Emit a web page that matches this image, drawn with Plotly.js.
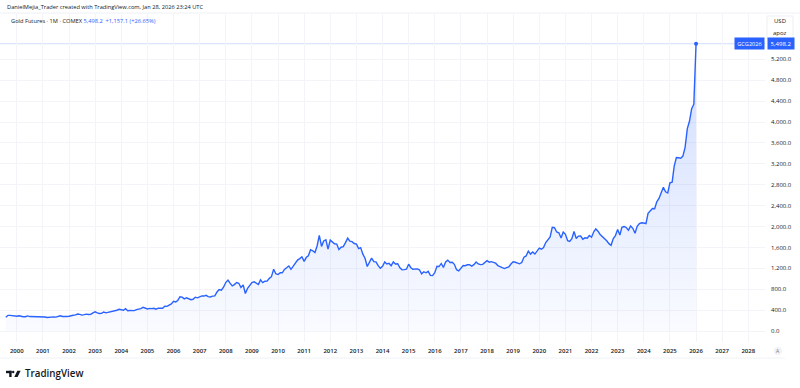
<!DOCTYPE html>
<html><head><meta charset="utf-8">
<script src="https://cdn.plot.ly/plotly-3.0.1.min.js"></script>
<style>html,body{margin:0;padding:0;background:#fff}#chart{width:800px;height:388px}</style>
</head><body><div id="chart"></div>
<script>
// Monthly closes, Gold Futures (COMEX), starting Aug 1999
const startYear = 1999, startMonth = 8;
const closes = [
  262, 300, 300, 292, 289,                                            // 1999 Aug-Dec
  283, 293, 277, 274, 273, 289, 277, 277, 274, 264, 269, 273,        // 2000
  265, 267, 258, 264, 266, 271, 266, 273, 293, 279, 275, 279,        // 2001
  282, 297, 302, 309, 326, 318, 304, 313, 324, 317, 318, 348,        // 2002
  368, 348, 335, 337, 364, 347, 355, 375, 385, 384, 398, 417,        // 2003
  400, 397, 427, 389, 394, 395, 391, 410, 418, 429, 453, 438,        // 2004
  423, 434, 428, 436, 418, 437, 429, 435, 473, 471, 496, 518,        // 2005
  570, 557, 585, 656, 648, 616, 637, 626, 600, 607, 648, 635,        // 2006
  652, 673, 669, 684, 659, 651, 668, 673, 748, 795, 783, 838,        // 2007
  928, 975, 917, 863, 888, 928, 914, 833, 884, 718, 816, 884,        // 2008
  928, 942, 924, 891, 979, 927, 954, 955, 1008, 1040, 1182, 1096,    // 2009
  1081, 1118, 1115, 1180, 1212, 1245, 1181, 1247, 1308, 1357, 1386, 1421, // 2010
  1333, 1411, 1439, 1556, 1536, 1502, 1628, 1829, 1620, 1725, 1746, 1566, // 2011
  1740, 1711, 1669, 1664, 1561, 1604, 1614, 1691, 1776, 1719, 1711, 1675, // 2012
  1663, 1578, 1596, 1472, 1393, 1234, 1313, 1396, 1327, 1323, 1250, 1202, // 2013
  1240, 1322, 1284, 1296, 1250, 1322, 1282, 1287, 1210, 1171, 1175, 1184, // 2014
  1279, 1212, 1183, 1182, 1190, 1172, 1095, 1135, 1115, 1142, 1065, 1061, // 2015
  1118, 1238, 1234, 1293, 1216, 1322, 1357, 1312, 1316, 1277, 1173, 1152, // 2016
  1211, 1253, 1249, 1268, 1269, 1242, 1270, 1322, 1284, 1271, 1275, 1309, // 2017
  1345, 1318, 1327, 1315, 1298, 1253, 1233, 1206, 1196, 1215, 1226, 1283, // 2018
  1325, 1316, 1298, 1286, 1311, 1413, 1437, 1529, 1472, 1514, 1473, 1520, // 2019
  1588, 1566, 1597, 1694, 1751, 1800, 1986, 1978, 1895, 1879, 1781, 1895, // 2020
  1850, 1728, 1716, 1769, 1905, 1771, 1817, 1818, 1757, 1784, 1776, 1829, // 2021
  1796, 1900, 1954, 1911, 1848, 1807, 1781, 1726, 1672, 1640, 1768, 1826, // 2022
  1945, 1836, 1986, 1999, 1982, 1929, 2009, 1966, 1870, 2004, 2057, 2072, // 2023
  2067, 2054, 2254, 2303, 2346, 2339, 2474, 2537, 2660, 2750, 2665, 2641, // 2024
  2835, 2848, 3150, 3319, 3315, 3308, 3348, 3516, 3873, 4014, 4254, 4341.1, // 2025
  5498.2                                                              // 2026 Jan
];
const yearLabels = ['2000','2001','2002','2003','2004','2005','2006','2007','2008','2009','2010','2011','2012','2013','2014','2015','2016','2017','2018','2019','2020','2021','2022','2023','2024','2025','2026','2027','2028'];
const yTicks = [0,400,800,1200,1600,2000,2400,2800,3200,3600,4000,4400,4800,5200];
const symbol = 'GCG2026';
const titleText = 'Gold Futures · 1M · COMEX';
const creditText = 'DanielMejia_Trader created with TradingView.com, Jan 28, 2026 23:24 UTC';

const months = closes.map((_, i) => {
  const m = startMonth - 1 + i;
  const y = startYear + Math.floor(m / 12);
  return y + '-' + String((m % 12) + 1).padStart(2, '0') + '-01';
});
const fmt = v => v.toLocaleString('en-US', {minimumFractionDigits: 1, maximumFractionDigits: 1});
const n = closes.length;
const last = closes[n - 1], prev = closes[n - 2];
const chg = last - prev, pct = chg / prev * 100;

const BLUE = '#2962FF', TXT = '#131722', GRID = '#f3f4f8';
const FONT = '"Open Sans", Roboto, sans-serif';
// pixel -> paper helpers (plot area: x 0..765, y 14..342)
const PX = x => x / 765;
const PY = y => (342 - y) / 328;

const traces = [
  {
    x: months, y: closes, type: 'scatter', mode: 'lines',
    line: {color: BLUE, width: 1.4},
    fill: 'tozeroy',
    fillgradient: {type: 'vertical', start: 0, stop: 5500,
      colorscale: [[0, 'rgba(41,98,255,0.025)'], [1, 'rgba(41,98,255,0.22)']]},
    hoverinfo: 'skip'
  },
  {
    x: [months[n - 1]], y: [last], type: 'scatter', mode: 'markers',
    marker: {color: BLUE, size: 4}, hoverinfo: 'skip'
  }
];

const tickDates = yearLabels.map(y => y + '-01-01');

const layout = {
  width: 800, height: 388,
  margin: {l: 0, r: 35, t: 14, b: 46},
  paper_bgcolor: '#ffffff', plot_bgcolor: '#ffffff',
  showlegend: false,
  font: {family: FONT, color: TXT, size: 6},
  xaxis: {
    type: 'date', range: ['1999-05-12', '2028-08-22'],
    tickvals: tickDates, ticktext: yearLabels,
    showgrid: true, gridcolor: GRID, gridwidth: 1,
    zeroline: false, showline: false, ticks: '',
    tickfont: {size: 6, color: TXT, family: FONT, weight: 600},
    ticklabelstandoff: 4, fixedrange: true
  },
  yaxis: {
    side: 'right', range: [-210, 6067],
    tickvals: yTicks, ticktext: yTicks.map(fmt),
    showgrid: true, gridcolor: GRID, gridwidth: 1,
    zeroline: false, showline: false, ticks: '',
    tickfont: {size: 6, color: TXT, family: FONT},
    ticklabelstandoff: 5, fixedrange: true
  },
  shapes: [
    {type: 'line', xref: 'paper', yref: 'y', x0: 0, x1: 1, y0: last, y1: last,
     line: {color: 'rgba(41,98,255,0.22)', width: 1}, layer: 'below'},
    {type: 'line', xref: 'paper', yref: 'paper', x0: 0, x1: PX(800), y0: PY(13), y1: PY(13),
     line: {color: '#eef0f5', width: 1}},
    {type: 'line', xref: 'paper', yref: 'paper', x0: 0, x1: PX(785), y0: PY(358), y1: PY(358),
     line: {color: '#f0f2f6', width: 1}},
    {type: 'rect', xref: 'paper', yref: 'paper', x0: PX(767), x1: PX(793), y0: PY(39), y1: PY(16),
     line: {color: '#e6e8ee', width: 0.7}, fillcolor: '#ffffff'},
    {type: 'circle', xref: 'paper', yref: 'paper', x0: PX(774), x1: PX(782), y0: PY(355), y1: PY(347),
     line: {width: 0}, fillcolor: '#f0f2f6'},
    // TradingView logo
    {type: 'rect', xref: 'paper', yref: 'paper', x0: PX(6), x1: PX(11.6), y0: PY(373.2), y1: PY(370.8),
     line: {width: 0}, fillcolor: TXT},
    {type: 'rect', xref: 'paper', yref: 'paper', x0: PX(9.2), x1: PX(11.6), y0: PY(377), y1: PY(370.8),
     line: {width: 0}, fillcolor: TXT},
    {type: 'circle', xref: 'paper', yref: 'paper', x0: PX(12), x1: PX(14.4), y0: PY(373.2), y1: PY(370.8),
     line: {width: 0}, fillcolor: TXT},
    {type: 'path', xref: 'paper', yref: 'paper',
     path: `M ${PX(17.3)} ${PY(370.8)} L ${PX(20.6)} ${PY(370.8)} L ${PX(17.6)} ${PY(377)} L ${PX(14.3)} ${PY(377)} Z`,
     line: {width: 0}, fillcolor: TXT}
  ],
  annotations: [
    {xref: 'paper', yref: 'paper', x: PX(5), y: PY(7), xanchor: 'left', yanchor: 'middle',
     text: creditText, showarrow: false, font: {size: 5.7, color: TXT, family: FONT}},
    {xref: 'paper', yref: 'paper', x: PX(9), y: PY(21), xanchor: 'left', yanchor: 'middle',
     text: titleText + ' <span style="color:' + BLUE + '">' + fmt(last) + '  ' +
       (chg >= 0 ? '+' : '') + fmt(chg) + ' (' + (chg >= 0 ? '+' : '') + pct.toFixed(2) + '%)</span>',
     showarrow: false, font: {size: 5.7, color: TXT, family: FONT}},
    {xref: 'paper', yref: 'paper', x: PX(780), y: PY(21), xanchor: 'center', yanchor: 'middle',
     text: 'USD', showarrow: false, font: {size: 6, color: TXT, family: FONT}},
    {xref: 'paper', yref: 'paper', x: PX(780), y: PY(33), xanchor: 'center', yanchor: 'middle',
     text: 'apoz', showarrow: false, font: {size: 6, color: TXT, family: FONT}},
    {xref: 'paper', yref: 'y', x: 1, y: last, xanchor: 'left', yanchor: 'middle', xshift: 2,
     text: fmt(last), showarrow: false, bgcolor: BLUE, borderpad: 1.5, width: 23,
     font: {size: 6, color: '#ffffff', family: FONT}},
    {xref: 'paper', yref: 'y', x: 1, y: last, xanchor: 'right', yanchor: 'middle', xshift: 0,
     text: symbol, showarrow: false, bgcolor: BLUE, borderpad: 1.5, width: 26,
     font: {size: 5.6, color: '#ffffff', family: FONT}},
    {xref: 'paper', yref: 'paper', x: PX(778), y: PY(351), xanchor: 'center', yanchor: 'middle',
     text: 'A', showarrow: false, font: {size: 5, color: '#787b86', family: FONT}},
    {xref: 'paper', yref: 'paper', x: PX(23), y: PY(373.5), xanchor: 'left', yanchor: 'middle',
     text: 'TradingView', showarrow: false, font: {size: 9.8, color: TXT, family: FONT, weight: 600}}
  ]
};

Plotly.newPlot('chart', traces, layout, {displayModeBar: false, staticPlot: true});
</script>
</body></html>
